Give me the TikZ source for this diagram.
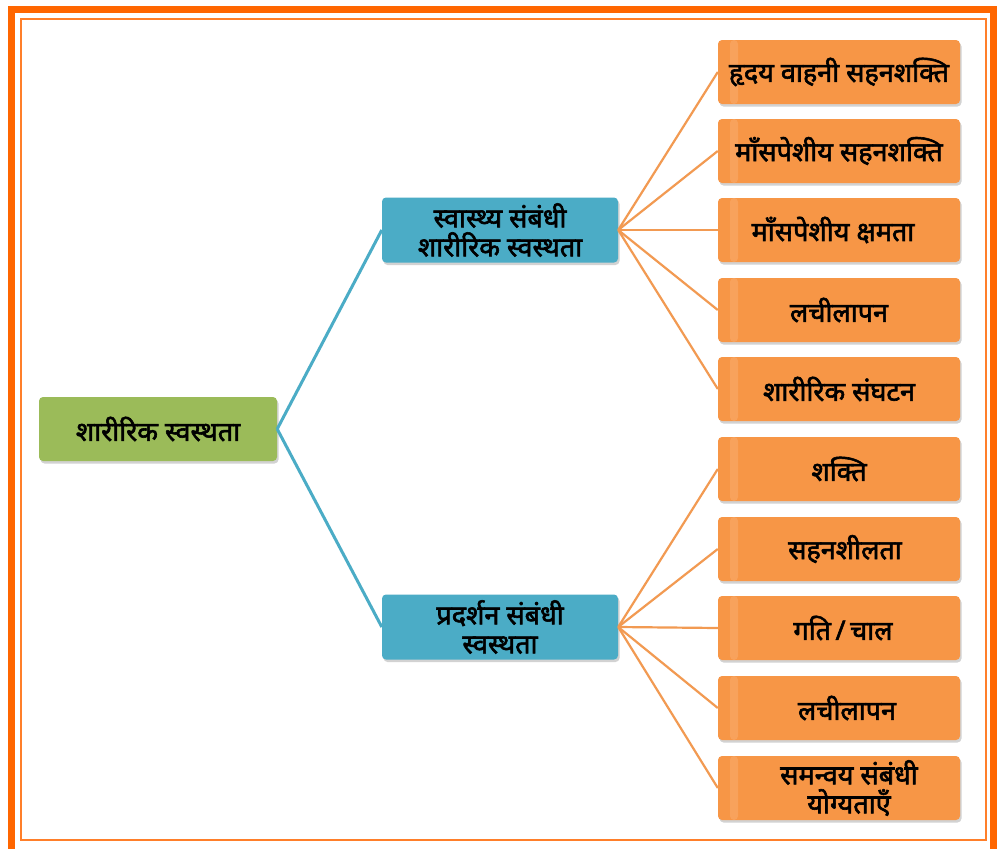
\documentclass[tikz,border=0pt]{standalone}
\usepackage{fontspec}
\setmainfont[Script=Devanagari, BoldFont={Noto Sans}, BoldFeatures={FakeBold=2.2}]{Noto Sans}
\usetikzlibrary{shadows}
\definecolor{frameor}{HTML}{FF6600}
\definecolor{framethin}{HTML}{FF7F2A}
\definecolor{rootgreen}{HTML}{9BBB59}
\definecolor{midblue}{HTML}{4BACC6}
\definecolor{leafor}{HTML}{F79646}
\definecolor{leafstripe}{HTML}{F9A866}
\definecolor{leafline}{HTML}{F29A52}
\definecolor{bluline}{HTML}{4BACC6}
\begin{document}
\begin{tikzpicture}[x=1pt,y=-1pt,
  boxbase/.style={rounded corners=4pt, inner sep=2pt, align=center,
    font=\bfseries\fontsize{27}{29}\selectfont, text=black,
    drop shadow={shadow xshift=1.5pt, shadow yshift=-2.5pt, fill=black!22, opacity=0.8}},
  rootbox/.style={boxbase, fill=rootgreen, minimum width=238pt, minimum height=64pt},
  midbox/.style={boxbase, fill=midblue, minimum width=236pt, minimum height=65pt},
  leafbox/.style={boxbase, fill=leafor, minimum width=242pt, minimum height=64pt,
    path picture={\fill[leafstripe, opacity=0.7]
      ([xshift=12pt]path picture bounding box.north west) rectangle
      ([xshift=20pt]path picture bounding box.south west);}},
  bluelink/.style={bluline, line width=3pt},
  orlink/.style={leafline, line width=2.2pt}]
\clip (0,0) rectangle (1002,849);
\fill[white] (0,0) rectangle (1002,849);
% frames
\draw[frameor, line width=7pt] (11.5,870) -- (11.5,9.5) -- (993.5,9.5) -- (993.5,870);
\draw[framethin, line width=1.8pt] (21,19) rectangle (986,840);
% nodes
\node[rootbox] (root) at (158,429) {शारीरिक स्वस्थता};
\node[midbox] (hr) at (500,230) {स्वास्थ्य संबंधी\\शारीरिक स्वस्थता};
\node[midbox] (pr) at (500,627) {प्रदर्शन संबंधी\\स्वस्थता};
\node[leafbox] (l1) at (839,72) {हृदय वाहनी सहनशक्ति};
\node[leafbox] (l2) at (839,151) {माँसपेशीय सहनशक्ति};
\node[leafbox] (l3) at (839,230) {माँसपेशीय क्षमता\hspace{12pt}};
\node[leafbox] (l4) at (839,310) {लचीलापन};
\node[leafbox] (l5) at (839,389) {शारीरिक संघटन};
\node[leafbox] (l6) at (839,469) {शक्ति};
\node[leafbox] (l7) at (839,549) {\hspace{12pt}सहनशीलता};
\node[leafbox] (l8) at (839,628) {\hspace{8pt}गति\,/\,चाल};
\node[leafbox] (l9) at (839,708) {\hspace{16pt}लचीलापन};
\node[leafbox] (l10) at (839,788) {\hspace{20pt}समन्वय संबंधी\\\hspace{20pt}योग्यताएँ};
% connectors
\draw[bluelink] (root.east) -- (hr.west);
\draw[bluelink] (root.east) -- (pr.west);
\foreach \n in {l1,l2,l3,l4,l5}{\draw[orlink] (hr.east) -- (\n.west);}
\foreach \n in {l6,l7,l8,l9,l10}{\draw[orlink] (pr.east) -- (\n.west);}
\end{tikzpicture}
\end{document}
